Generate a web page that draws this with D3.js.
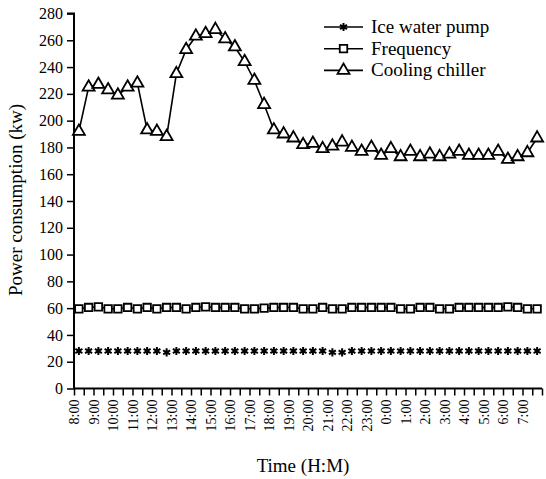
<!DOCTYPE html>
<html>
<head>
<meta charset="utf-8">
<script src="https://cdn.jsdelivr.net/npm/d3@7"></script>
<style>
	body { margin: 0; background: #fff; }
	svg, svg text { font-family: "Liberation Serif", "Times New Roman", Times, "DejaVu Serif", serif; }
</style>
</head>
<body>
<svg id="chart" width="546" height="479"></svg>
<script>
// half-hour samples, 8:00 -> 7:30
const times = ["8:00","8:30","9:00","9:30","10:00","10:30","11:00","11:30","12:00","12:30",
	"13:00","13:30","14:00","14:30","15:00","15:30","16:00","16:30","17:00","17:30",
	"18:00","18:30","19:00","19:30","20:00","20:30","21:00","21:30","22:00","22:30",
	"23:00","23:30","0:00","0:30","1:00","1:30","2:00","2:30","3:00","3:30",
	"4:00","4:30","5:00","5:30","6:00","6:30","7:00","7:30"];

const iceWaterPump = [28,28,28,28,28,28,28,28,28,27,28,28,28,28,28,28,28,28,28,28,28,28,28,28,
	28,28,27,27,28,28,28,28,28,28,28,28,28,28,28,28,28,28,28,28,28,28,28,28];

const frequency = [59.5,60.5,61,59.5,59.5,60.5,59.5,60.5,59.5,60.5,60.5,59.5,60.5,61,60.5,60.5,
	60.5,59.5,59.5,60,60.5,60.5,60.5,59.5,59.5,60.5,59.5,59.5,60.5,60.5,60.5,60.5,
	60.5,59.5,59.5,60.5,60.5,59.5,59.5,60.5,60.5,60.5,60.5,60.5,61,60.5,59.5,59.5];

const coolingChiller = [192,225,227,223,219,225,228,193,192,188,235,253,263,265,268,261,
	255,244,230,212,193,190,187,182,183,179,181,184,180,177,180,174,
	179,173,177,173,175,173,175,177,174,174,174,177,171,173,176,187];

const yTicks = [0,20,40,60,80,100,120,140,160,180,200,220,240,260,280];

const series = [
	{ name: "Ice water pump", values: iceWaterPump, symbol: "asterisk", line: false },
	{ name: "Frequency", values: frequency, symbol: "square", line: true },
	{ name: "Cooling chiller", values: coolingChiller, symbol: "triangle", line: true },
];

const FONT = "'Liberation Serif', 'Times New Roman', Times, 'DejaVu Serif', serif";
const svg = d3.select("svg#chart");
const bounds = { minX: 74, maxX: 542, minY: 13.5, maxY: 388.5 };

// ticks sit on the slot edges, points in the middle of each slot
const scaleEdge = d3.scaleLinear().domain([0, times.length]).range([bounds.minX, bounds.maxX]);
const scaleX = d3.scaleBand().domain(times).range([bounds.minX, bounds.maxX]);
const px = t => scaleX(t) + scaleX.bandwidth() / 2;
const scaleY = d3.scaleLinear().domain([0, 280]).range([bounds.maxY, bounds.minY]);

function symbolPath(kind) {
	if (kind === "asterisk") return d3.symbol(d3.symbolAsterisk, 46)();
	if (kind === "square") return d3.symbol(d3.symbolSquare, 56)();
	return d3.symbol(d3.symbolTriangle, 62)();
}

// y axis
const yAxis = d3.axisLeft(scaleY).tickValues(yTicks).tickSize(7).tickPadding(4);
const yG = svg.append("g").attr("transform", `translate(${bounds.minX} 0)`).call(yAxis)
	.attr("font-family", FONT);
yG.select(".domain").attr("stroke-width", 2).attr("d", `M-7,${bounds.minY}H0V${bounds.maxY}`);
yG.selectAll(".tick line").attr("stroke-width", 1.5);
yG.selectAll(".tick text").attr("font-size", 16).attr("fill", "#000");

// x axis
const xAxis = d3.axisBottom(scaleEdge)
	.tickValues(d3.range(times.length + 1))
	.tickSize(7)
	.tickFormat(i => (i < times.length && times[i].endsWith(":00")) ? times[i] : "");
const xG = svg.append("g").attr("transform", `translate(0 ${bounds.maxY})`).call(xAxis)
	.attr("font-family", FONT);
xG.select(".domain").attr("stroke-width", 2).attr("d", `M${bounds.minX},0H${bounds.maxX}`);
xG.selectAll(".tick line").attr("stroke-width", 1.5);
xG.selectAll(".tick text")
	.attr("font-size", 14)
	.attr("fill", "#000")
	.attr("text-anchor", "end")
	.attr("transform", "rotate(-90)")
	.attr("x", -11)
	.attr("y", 0)
	.attr("dy", "0.33em");

// axis titles
svg.append("text")
	.attr("transform", `translate(22 200) rotate(-90)`)
	.attr("text-anchor", "middle")
	.attr("font-family", FONT)
	.attr("font-size", 19)
	.text("Power consumption (kw)");
svg.append("text")
	.attr("x", 303).attr("y", 472)
	.attr("text-anchor", "middle")
	.attr("font-family", FONT)
	.attr("font-size", 19)
	.text("Time (H:M)");

// lines + markers
const line = d3.line().x((d, i) => px(times[i])).y(d => scaleY(d));
const plot = svg.append("g");
series.forEach(s => {
	if (s.line) {
		plot.append("path")
			.attr("d", line(s.values))
			.attr("fill", "none")
			.attr("stroke", "#000")
			.attr("stroke-width", 1.6);
	}
	plot.append("g").selectAll("path")
		.data(s.values)
		.join("path")
		.attr("transform", (d, i) => `translate(${px(times[i])} ${scaleY(d)})`)
		.attr("d", symbolPath(s.symbol))
		.attr("fill", s.symbol === "asterisk" ? "none" : "#fff")
		.attr("stroke", "#000")
		.attr("stroke-width", s.symbol === "asterisk" ? 2 : 1.8);
});

// legend
const legend = svg.append("g").attr("transform", "translate(324 27)");
const rows = legend.selectAll("g").data(series).join("g")
	.attr("transform", (d, i) => `translate(0 ${i * 21.7})`);
rows.append("line")
	.attr("x1", 0).attr("x2", 39)
	.attr("stroke", "#000").attr("stroke-width", 1.6);
rows.append("path")
	.attr("transform", "translate(19.5 0)")
	.attr("d", d => symbolPath(d.symbol))
	.attr("fill", d => d.symbol === "asterisk" ? "none" : "#fff")
	.attr("stroke", "#000")
	.attr("stroke-width", d => d.symbol === "asterisk" ? 2 : 1.8);
rows.append("text")
	.attr("x", 47).attr("dy", "0.32em")
	.attr("font-family", FONT)
	.attr("font-size", 19)
	.text(d => d.name);
</script>
</body>
</html>
